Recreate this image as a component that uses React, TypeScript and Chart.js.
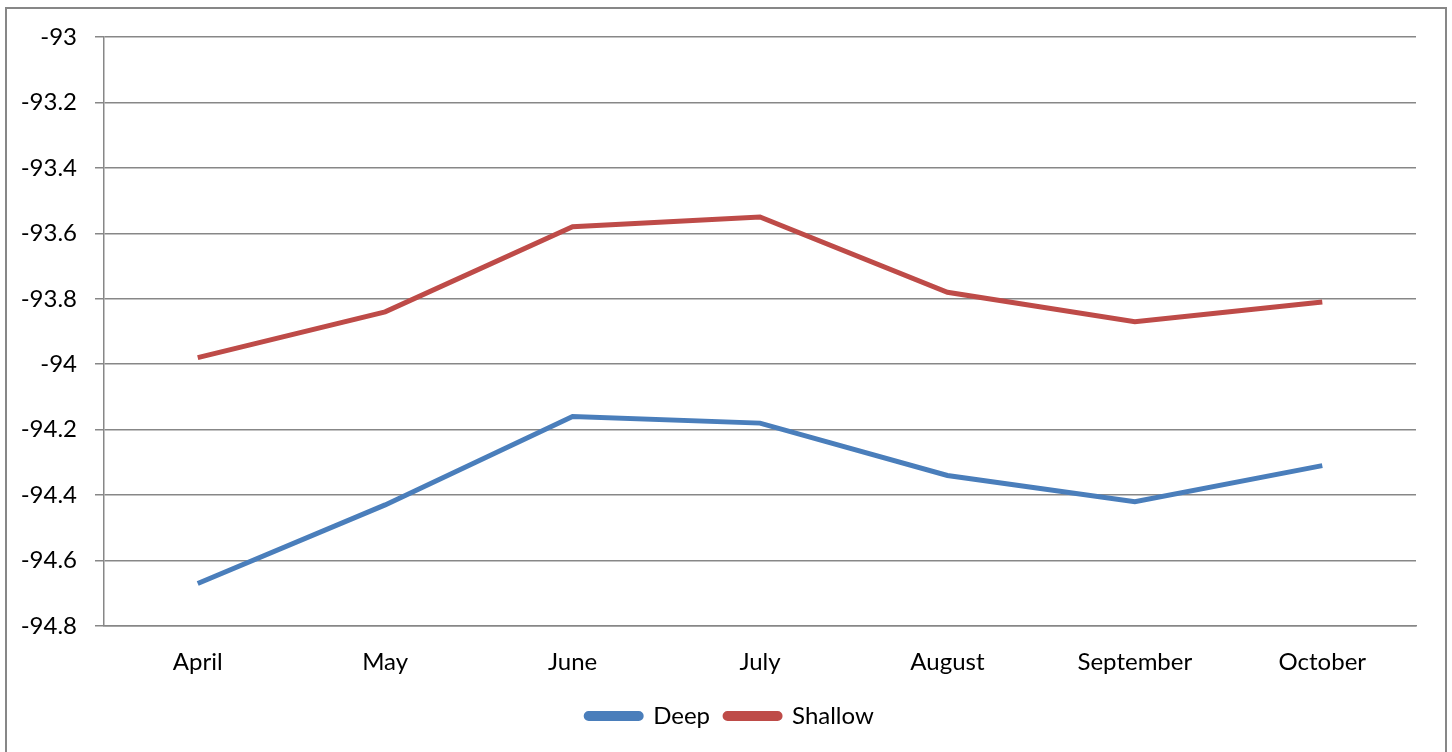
import React, { useEffect, useRef } from "react";
import { Chart, registerables } from "chart.js";

Chart.register(...registerables);

const months = ["April", "May", "June", "July", "August", "September", "October"];
const deep = [-94.67, -94.43, -94.16, -94.18, -94.34, -94.42, -94.31];
const shallow = [-93.98, -93.84, -93.58, -93.55, -93.78, -93.87, -93.81];
const yMin = -94.8;
const yMax = -93;
const yStep = 0.2;

const FONT = "Lato, 'Open Sans', sans-serif";
const GRID = "#878787";

const frame = {
  id: "frame",
  afterLayout(chart: any) {
    const lg = chart.legend;
    if (lg) {
      lg.left += 22;
      lg.right += 22;
    }
  },
  afterDraw(chart: any) {
    const ctx = chart.ctx;
    ctx.save();
    ctx.strokeStyle = "#878787";
    ctx.lineWidth = 2;
    ctx.strokeRect(6, 8, 1440, 800);
    ctx.restore();
  },
};

export default function App() {
  const ref = useRef<HTMLCanvasElement>(null);
  useEffect(() => {
    if (!ref.current) return;
    const chart = new Chart(ref.current, {
      type: "line",
      data: {
        labels: months,
        datasets: [
          {
            label: "Deep",
            data: deep,
            borderColor: "#4A7EBB",
            backgroundColor: "#4A7EBB",
            borderWidth: 5,
            pointRadius: 0,
            tension: 0,
          },
          {
            label: "Shallow",
            data: shallow,
            borderColor: "#BE4B48",
            backgroundColor: "#BE4B48",
            borderWidth: 5,
            pointRadius: 0,
            tension: 0,
          },
        ],
      },
      options: {
        responsive: false,
        animation: false,
        layout: { padding: { left: 0, right: 36, top: 37, bottom: 14 } },
        scales: {
          x: {
            offset: true,
            grid: { display: false, drawTicks: false },
            border: { display: true, color: GRID, width: 1.5 },
            ticks: { color: "#000", font: { family: FONT, size: 24 }, padding: 22, maxRotation: 0 },
            afterFit: (s: any) => {
              s.height = 63;
            },
          },
          y: {
            min: yMin,
            max: yMax,
            grid: { color: GRID, lineWidth: 1.5, tickLength: 9, tickColor: GRID },
            border: { display: true, color: GRID, width: 1.5 },
            ticks: {
              stepSize: yStep,
              color: "#000",
              padding: 18,
              font: { family: FONT, size: 24 },
              callback: (v: any) => String(Math.round(Number(v) * 10) / 10),
            },
            afterFit: (s: any) => {
              s.width = 104;
            },
          },
        },
        plugins: {
          legend: {
            position: "bottom",
            labels: {
              color: "#000",
              font: { family: FONT, size: 24 },
              boxWidth: 55,
              boxHeight: 5,
              useBorderRadius: true,
              borderRadius: 2.5,
              padding: 15,
            },
          },
          tooltip: { enabled: false },
        },
      },
      plugins: [frame],
    } as any);
    return () => chart.destroy();
  }, []);
  return (
    <div style={{ position: "fixed", left: 0, top: 0, width: 1452, height: 752, background: "#fff" }}>
      <canvas ref={ref} width={1452} height={752} style={{ display: "block" }} />
    </div>
  );
}
